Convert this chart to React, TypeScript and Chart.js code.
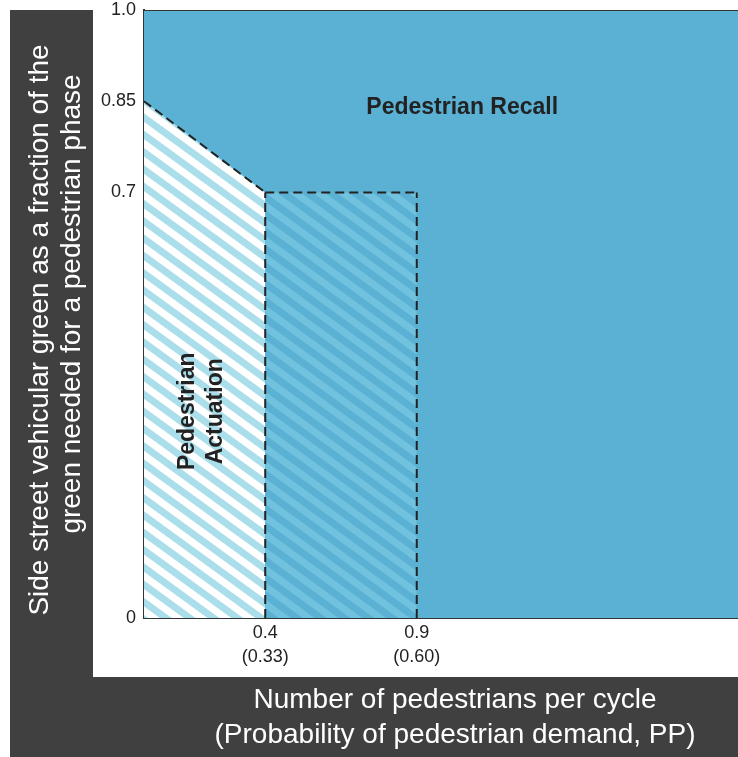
import React, { useEffect, useRef } from "react";
import { Chart, registerables } from "chart.js";

Chart.register(...registerables);

// ---- data ----
const xRange = [0, 1.96];
const yRange = [0, 1];
const xTickValues = [0.4, 0.9];
const xTickLabels = [["0.4", "(0.33)"], ["0.9", "(0.60)"]];
const yTickValues = [0, 0.7, 0.85, 1.0];
const yTickLabels = ["0", "0.7", "0.85", "1.0"];

const recallX = [0, 1.96];
const recallY = [1, 1];
const actuationX = [0, 0.4];
const actuationY = [0.85, 0.7];
const overlapX = [0.4, 0.9];
const overlapY = [0.7, 0.7];
const dividerX = [0.4, 0.4];
const dividerY = [0, 0.7];
const edgeX = [0.9, 0.9];
const edgeY = [0, 0.7];

const recallLabel = "Pedestrian Recall";
const recallLabelPos = [1.05, 0.839];
const actuationLabel = ["Pedestrian", "Actuation"];
const actuationLabelPos = [0.19, 0.34];

const yTitle = [
  "Side street vehicular green as a fraction of the",
  "green needed for a pedestrian phase",
];
const xTitle = [
  "Number of pedestrians per cycle",
  "(Probability of pedestrian demand, PP)",
];

const W = 738;
const H = 757;
const FONT = '"Liberation Sans", Arial, Helvetica, sans-serif';

const pts = (xs: number[], ys: number[]) => xs.map((x, i) => ({ x, y: ys[i] }));

function stripes(ctx: CanvasRenderingContext2D, base: string, stripe: string) {
  const P = 14;
  const c = document.createElement("canvas");
  c.width = P;
  c.height = P;
  const g = c.getContext("2d")!;
  g.fillStyle = base;
  g.fillRect(0, 0, P, P);
  g.fillStyle = stripe;
  g.fillRect(0, 0, P / 2, P);
  const p = ctx.createPattern(c, "repeat")!;
  p.setTransform(new DOMMatrix().rotate(-54));
  return p;
}

const framePlugin = {
  id: "frame",
  beforeDraw(chart: any) {
    const ctx = chart.ctx as CanvasRenderingContext2D;
    ctx.save();
    ctx.fillStyle = "#ffffff";
    ctx.fillRect(0, 0, W, H);
    ctx.fillStyle = "#404040";
    ctx.fillRect(10, 10, 83, H - 10);
    ctx.fillRect(10, 677, W - 10, H - 677);
    ctx.restore();
  },
  afterDraw(chart: any) {
    const ctx = chart.ctx as CanvasRenderingContext2D;
    const xs = chart.scales.x;
    const ys = chart.scales.y;
    ctx.save();
    ctx.textAlign = "center";
    ctx.textBaseline = "middle";
    // axis titles
    ctx.fillStyle = "#ffffff";
    ctx.font = `28px ${FONT}`;
    const yCenters = [[40, 330], [72, 304]];
    yTitle.forEach((t, i) => {
      ctx.save();
      ctx.translate(yCenters[i][0], yCenters[i][1]);
      ctx.rotate(-Math.PI / 2);
      ctx.fillText(t, 0, 0);
      ctx.restore();
    });
    xTitle.forEach((t, i) => ctx.fillText(t, 455, 700 + i * 35));
    // region labels
    ctx.fillStyle = "#222222";
    ctx.font = `bold 23px ${FONT}`;
    ctx.fillText(recallLabel, xs.getPixelForValue(recallLabelPos[0]), ys.getPixelForValue(recallLabelPos[1]));
    const ax = xs.getPixelForValue(actuationLabelPos[0]);
    const ay = ys.getPixelForValue(actuationLabelPos[1]);
    ctx.translate(ax, ay);
    ctx.rotate(-Math.PI / 2);
    actuationLabel.forEach((t, i) => ctx.fillText(t, 0, (i - 0.5) * 28));
    ctx.restore();
  },
};

export default function App() {
  const ref = useRef<HTMLCanvasElement>(null);
  useEffect(() => {
    const canvas = ref.current!;
    const ctx = canvas.getContext("2d")!;
    const hatchWhite = stripes(ctx, "#ffffff", "#aadeea");
    const hatchBlue = stripes(ctx, "#5ab1d4", "#70c2de");
    const dash = [9, 5];
    const chart = new Chart(canvas, {
      type: "line",
      data: {
        datasets: [
          {
            data: pts(recallX, recallY),
            borderColor: "#333333",
            borderWidth: 2,
            backgroundColor: "#5ab1d4",
            fill: "origin",
            pointRadius: 0,
            order: 5,
          },
          {
            data: pts(actuationX, actuationY),
            borderColor: "#222222",
            borderWidth: 2,
            borderDash: dash,
            backgroundColor: hatchWhite as any,
            fill: "origin",
            pointRadius: 0,
            order: 4,
          },
          {
            data: pts(overlapX, overlapY),
            borderColor: "#222222",
            borderWidth: 2,
            borderDash: dash,
            backgroundColor: hatchBlue as any,
            fill: "origin",
            pointRadius: 0,
            order: 3,
          },
          {
            data: pts(dividerX, dividerY),
            borderColor: "#222222",
            borderWidth: 2,
            borderDash: dash,
            fill: false,
            pointRadius: 0,
            order: 1,
          },
          {
            data: pts(edgeX, edgeY),
            borderColor: "#222222",
            borderWidth: 2,
            borderDash: dash,
            fill: false,
            pointRadius: 0,
            order: 1,
          },
        ],
      },
      options: {
        animation: false,
        responsive: false,
        devicePixelRatio: 1,
        layout: { padding: { top: 10, left: 0, right: 0, bottom: 0 } },
        plugins: { legend: { display: false }, tooltip: { enabled: false } },
        elements: { line: { tension: 0 } },
        scales: {
          x: {
            type: "linear",
            min: xRange[0],
            max: xRange[1],
            z: 1,
            grid: { display: false, drawTicks: false },
            border: { display: true, color: "#333333", width: 2 },
            afterBuildTicks: (s: any) => {
              s.ticks = xTickValues.map((v) => ({ value: v }));
            },
            afterFit: (s: any) => {
              s.height = H - 618;
              s.paddingLeft = 0;
              s.paddingRight = 0;
            },
            ticks: {
              autoSkip: false,
              maxRotation: 0,
              padding: 4,
              color: "#222222",
              font: { family: FONT, size: 18, lineHeight: 1.28 },
              callback: (_v: any, i: number) => xTickLabels[i],
            },
          },
          y: {
            type: "linear",
            min: yRange[0],
            max: yRange[1],
            z: 1,
            grid: { display: false, drawTicks: false },
            border: { display: true, color: "#333333", width: 2 },
            afterBuildTicks: (s: any) => {
              s.ticks = yTickValues.map((v) => ({ value: v }));
            },
            afterFit: (s: any) => {
              s.width = 144;
              s.paddingTop = 0;
              s.paddingBottom = 0;
            },
            ticks: {
              autoSkip: false,
              padding: 8,
              color: "#222222",
              font: { family: FONT, size: 18 },
              callback: (_v: any, i: number) => yTickLabels[i],
            },
          },
        },
      },
      plugins: [framePlugin],
    });
    return () => chart.destroy();
  }, []);
  return (
    <div style={{ position: "fixed", left: 0, top: 0, width: W, height: H, overflow: "hidden" }}>
      <canvas ref={ref} width={W} height={H} style={{ display: "block", width: W, height: H }} />
    </div>
  );
}
